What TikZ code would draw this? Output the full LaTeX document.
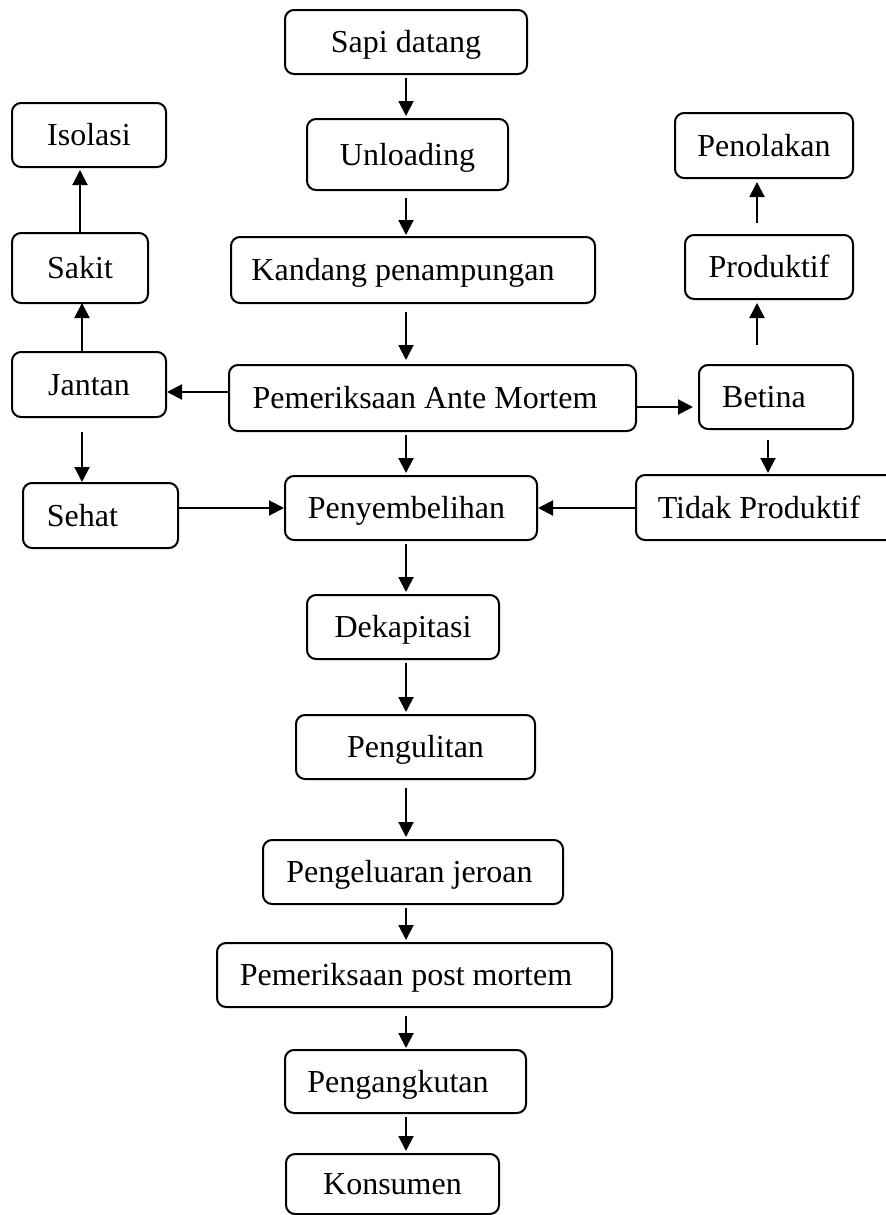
\documentclass[tikz,border=0pt]{standalone}
\usepackage{fontspec}
\setmainfont{Liberation Serif}
\usepackage{tikz}
\usetikzlibrary{arrows.meta, positioning, calc}

\begin{document}
\begin{tikzpicture}[node distance=1.5cm]
    % Styles
    \tikzstyle{box} = [rectangle, draw, rounded corners=4.5pt, line width=1pt, inner sep=0pt, outer sep=0pt, text height=14pt, text depth=3.5pt, font=\fontsize{16pt}{19pt}\selectfont]
    \tikzstyle{line} = [draw, -{Triangle[length=7.5pt,width=7.5pt]}, line width=1pt, shorten <=2pt, shorten >=1.5pt]

    \useasboundingbox (0,0) rectangle (442.5pt,-607.5pt);

    % Main flow
    \node [box, minimum width=121pt, minimum height=32pt] (sapi) at (203pt,-21pt) {Sapi datang};
    \node [box, minimum width=100.5pt, minimum height=35.5pt, below=22.5pt of sapi, xshift=0.75pt] (unload) {Unloading};
    \node [box, minimum width=182pt, minimum height=33pt, below=23.5pt of unload, xshift=2.75pt] (kandang) {Kandang penampungan\hspace*{10pt}};
    \node [box, minimum width=203.5pt, minimum height=33pt, below=31pt of kandang, xshift=9.75pt] (am) {Pemeriksaan Ante Mortem\hspace*{7.5pt}};
    \node [box, minimum width=126pt, minimum height=32pt, below=22.5pt of am, xshift=-10.75pt] (peny) {Penyembelihan\hspace*{4.5pt}};
    \node [box, minimum width=96pt, minimum height=32pt, below=27.5pt of peny, xshift=-4pt] (dekap) {Dekapitasi};
    \node [box, minimum width=119.5pt, minimum height=32pt, below=28pt of dekap, xshift=6.25pt] (kulit) {Pengulitan};
    \node [box, minimum width=150pt, minimum height=32pt, below=30.5pt of kulit, xshift=-1.25pt] (jeroan) {Pengeluaran jeroan\hspace*{3.5pt}};
    \node [box, minimum width=197.5pt, minimum height=32pt, below=19.5pt of jeroan, xshift=0.75pt] (postm) {Pemeriksaan post mortem\hspace*{8.5pt}};
    \node [box, minimum width=120.5pt, minimum height=31.5pt, below=21.5pt of postm, xshift=-4.5pt] (angkut) {Pengangkutan\hspace*{7.5pt}};
    \node [box, minimum width=106.5pt, minimum height=30pt, below=20.5pt of angkut, xshift=-6.5pt] (konsumen) {Konsumen};

    % Left branch
    \node [box, minimum width=77pt, minimum height=32.5pt, left=31.5pt of am, yshift=6.75pt] (jantan) {Jantan};
    \node [box, minimum width=68pt, minimum height=35pt, above=24.5pt of jantan, xshift=-4.5pt] (sakit) {Sakit};
    \node [box, minimum width=77pt, minimum height=32pt, above=33pt of sakit, xshift=4.5pt] (isolasi) {Isolasi};
    \node [box, minimum width=77.5pt, minimum height=32.5pt, below=33pt of jantan, xshift=5.75pt] (sehat) {Sehat\hspace*{18pt}};

    % Right branch
    \node [box, minimum width=77pt, minimum height=32pt, right=31.5pt of am, yshift=0.5pt] (betina) {Betina\hspace*{12pt}};
    \node [box, minimum width=84pt, minimum height=32pt, above=33pt of betina, xshift=-3.5pt] (produktif) {Produktif};
    \node [box, minimum width=89pt, minimum height=32.5pt, above=28.5pt of produktif, xshift=-2.5pt] (penolakan) {Penolakan};
    \node [box, minimum width=140pt, minimum height=32.5pt, below=23pt of betina] (tidak) {Tidak Produktif\hspace*{17pt}};

    % Edges
    \draw [line] (sapi.south -| sapi) -- (unload.north -| sapi);
    \draw [line, shorten <=4pt, shorten >=1pt] (unload.south -| sapi) -- (kandang.north -| sapi);
    \draw [line, shorten <=4.5pt, shorten >=2.5pt] (kandang.south -| sapi) -- (am.north -| sapi);
    \draw [line] (am.south -| sapi) -- (peny.north -| sapi);
    \draw [line] (peny.south -| sapi) -- (dekap.north -| sapi);
    \draw [line] (dekap.south -| sapi) -- (kulit.north -| sapi);
    \draw [line, shorten <=4.5pt] (kulit.south -| sapi) -- (jeroan.north -| sapi);
    \draw [line] (jeroan.south -| sapi) -- (postm.north -| sapi);
    \draw [line, shorten <=4.5pt, shorten >=1pt] (postm.south -| sapi) -- (angkut.north -| sapi);
    \draw [line] (angkut.south -| sapi) -- (konsumen.north -| sapi);

    \draw [line, shorten <=0pt, shorten >=0.5pt] ([yshift=3pt]am.west) -- ([yshift=3pt]am.west -| jantan.east);
    \draw [line, shorten <=0pt, shorten >=0pt] ([xshift=-3.5pt]jantan.north) -- ([xshift=-3.5pt]jantan.north |- sakit.south);
    \draw [line, shorten <=0pt] (sakit.north) -- (sakit.north |- isolasi.south);
    \draw [line, shorten <=7.5pt, shorten >=0.5pt] ([xshift=-3.5pt]jantan.south) -- ([xshift=-3.5pt]jantan.south |- sehat.north);
    \draw [line, shorten <=0pt, shorten >=0.5pt] (sehat.east |- peny) -- (peny.west);
    \draw [line, shorten <=0pt, shorten >=0.5pt] (tidak.west |- peny) -- (peny.east);

    \draw [line, shorten <=0pt, shorten >=3pt] ([yshift=-4.5pt]am.east) -- ([yshift=-4.5pt]am.east -| betina.west);
    \draw [line, shorten <=5.5pt, shorten >=1pt] ([xshift=-4pt]betina.south) -- ([xshift=-4pt]betina.south |- tidak.north);
    \draw [line, shorten <=10pt, shorten >=2pt] ([xshift=-9.5pt]betina.north) -- ([xshift=-9.5pt]betina.north |- produktif.south);
    \draw [line, shorten <=6pt, shorten >=2pt] ([xshift=-6pt]produktif.north) -- ([xshift=-6pt]produktif.north |- penolakan.south);
\end{tikzpicture}
\end{document}
